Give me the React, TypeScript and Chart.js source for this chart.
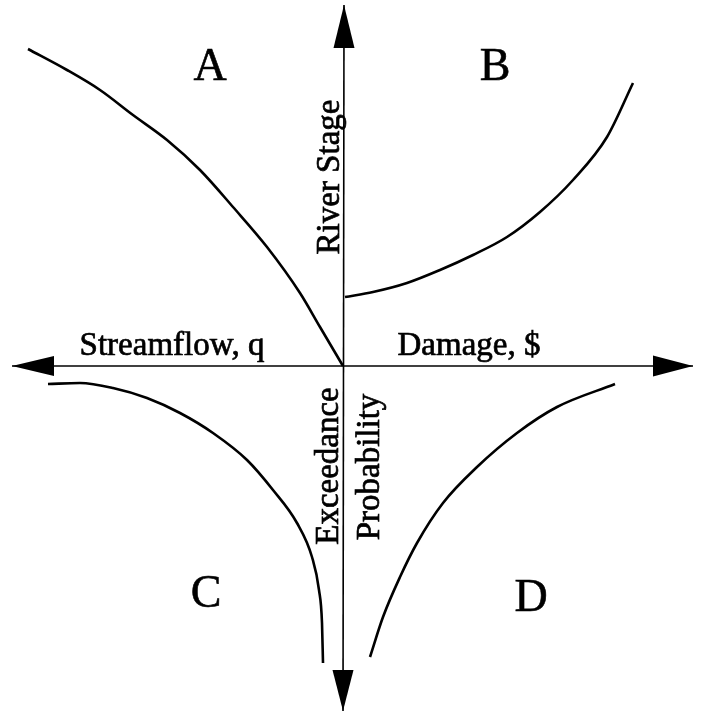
import React, { useEffect, useRef } from "react";
import { Chart, registerables } from "chart.js";

Chart.register(...registerables);

// Coordinate system: origin at the axes crossing, units ~ pixels of the picture
const X_RANGE = [-343, 359];
const Y_RANGE = [-345, 366];

// Curve A (Streamflow vs River Stage)
const curveA_x = [-315, -276, -243, -210, -176, -143, -110, -76, -43, -23, 0];
const curveA_y = [317, 296, 276, 251, 226, 196, 159, 119, 73, 39, 0];
// Curve B (Damage vs River Stage)
const curveB_x = [2, 30, 64, 97, 130, 164, 197, 230, 264, 290];
const curveB_y = [69, 74, 83, 96, 111, 129, 154, 186, 229, 283];
// Curve C (Streamflow vs Exceedance Probability)
const curveC_x = [-295, -263, -230, -196, -163, -130, -96, -70, -46, -31, -24, -21, -20];
const curveC_y = [-18, -17, -22, -32, -47, -67, -94, -124, -157, -191, -224, -257, -297];
// Curve D (Damage vs Exceedance Probability)
const curveD_x = [27, 40, 57, 74, 100, 134, 174, 214, 272];
const curveD_y = [-291, -251, -211, -177, -137, -101, -67, -41, -18];

// Axes extents (arrow tips)
const hAxis_x = [-331, 350];
const vAxis_y = [-345, 361];

// Quadrant letters
const quadLetters = ["A", "B", "C", "D"];
const quadLetter_x = [-133, 152, -137, 188];
const quadLetter_y = [286, 286, -241, -245];

// Axis titles
const axisTitles = ["Streamflow, q", "Damage, $", "River Stage", "Exceedance", "Probability"];
const axisTitle_x = [-171, 126, -4, -5, 36];
const axisTitle_y = [11, 11, 189, -100, -101];
const axisTitle_rot = [0, 0, -90, -90, -90];

const toPts = (xs: number[], ys: number[]) => xs.map((x, i) => ({ x, y: ys[i] }));

const SERIF = '"Liberation Serif", "DejaVu Serif", serif';

const decorPlugin = {
  id: "decor",
  afterDatasetsDraw(chart: any) {
    const ctx = chart.ctx;
    const xs = chart.scales.x;
    const ys = chart.scales.y;
    const px = (v: number) => xs.getPixelForValue(v);
    const py = (v: number) => ys.getPixelForValue(v);
    ctx.save();
    ctx.fillStyle = "#000";
    ctx.strokeStyle = "#000";
    // arrowheads
    const arrow = (tx: number, ty: number, dx: number, dy: number, len: number, hw: number) => {
      const bx = tx - dx * len;
      const by = ty - dy * len;
      ctx.beginPath();
      ctx.moveTo(tx, ty);
      ctx.lineTo(bx - dy * hw, by + dx * hw);
      ctx.lineTo(bx + dy * hw, by - dx * hw);
      ctx.closePath();
      ctx.fill();
    };
    arrow(px(hAxis_x[0]), py(0), -1, 0, 42, 10);
    arrow(px(hAxis_x[1]), py(0), 1, 0, 40, 10.5);
    arrow(px(1), py(vAxis_y[1]), 0, -1, 43, 10.5);
    arrow(px(0), py(vAxis_y[0]), 0, 1, 41, 10.5);

    // quadrant letters
    ctx.font = `46px ${SERIF}`;
    ctx.textAlign = "center";
    ctx.textBaseline = "alphabetic";
    ctx.lineWidth = 0.6;
    quadLetters.forEach((t, i) => {
      ctx.fillText(t, px(quadLetter_x[i]), py(quadLetter_y[i]));
      ctx.strokeText(t, px(quadLetter_x[i]), py(quadLetter_y[i]));
    });

    // axis titles
    ctx.font = `33px ${SERIF}`;
    ctx.lineWidth = 0.7;
    axisTitles.forEach((t, i) => {
      ctx.save();
      ctx.translate(px(axisTitle_x[i]), py(axisTitle_y[i]));
      ctx.rotate((axisTitle_rot[i] * Math.PI) / 180);
      ctx.textAlign = "center";
      ctx.textBaseline = "alphabetic";
      ctx.fillText(t, 0, 0);
      ctx.strokeText(t, 0, 0);
      ctx.restore();
    });
    ctx.restore();
  },
};

export default function App() {
  const ref = useRef<HTMLCanvasElement | null>(null);
  useEffect(() => {
    if (!ref.current) return;
    const curve = (label: string, xs: number[], ys: number[]) => ({
      label,
      data: toPts(xs, ys),
      showLine: true,
      borderColor: "#000",
      borderWidth: 2.6,
      pointRadius: 0,
      cubicInterpolationMode: "monotone" as const,
      fill: false,
    });
    const axisLine = (label: string, pts: { x: number; y: number }[]) => ({
      label,
      data: pts,
      showLine: true,
      borderColor: "#000",
      borderWidth: 1.6,
      pointRadius: 0,
      tension: 0,
      fill: false,
    });
    const chart = new Chart(ref.current, {
      type: "scatter",
      data: {
        datasets: [
          axisLine("hAxis", [
            { x: hAxis_x[0], y: 0 },
            { x: hAxis_x[1], y: 0 },
          ]),
          axisLine("vAxis", [
            { x: 0, y: vAxis_y[0] },
            { x: 1, y: vAxis_y[1] },
          ]),
          curve("A", curveA_x, curveA_y),
          curve("B", curveB_x, curveB_y),
          curve("C", curveC_x, curveC_y),
          curve("D", curveD_x, curveD_y),
        ],
      },
      options: {
        animation: false,
        responsive: false,
        maintainAspectRatio: false,
        layout: { padding: 0 },
        plugins: { legend: { display: false }, tooltip: { enabled: false } },
        scales: {
          x: { type: "linear", min: X_RANGE[0], max: X_RANGE[1], display: false },
          y: { type: "linear", min: Y_RANGE[0], max: Y_RANGE[1], display: false },
        },
      },
      plugins: [decorPlugin],
    });
    return () => chart.destroy();
  }, []);
  return (
    <div style={{ position: "fixed", left: 0, top: 0, width: 702, height: 711, background: "#fff" }}>
      <canvas ref={ref} width={702} height={711} style={{ display: "block" }} />
    </div>
  );
}
